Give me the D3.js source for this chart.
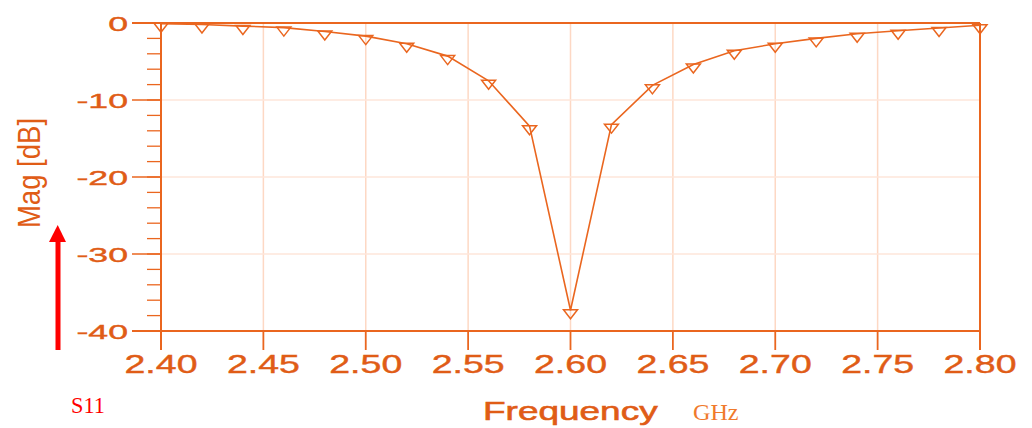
<!DOCTYPE html>
<html>
<head>
<meta charset="utf-8">
<script src="https://cdn.jsdelivr.net/npm/d3@7"></script>
<style>
  body { margin: 0; background: #fff; }
  svg { display: block; }
</style>
</head>
<body>
<script>
// S11 sweep, one point every 20 MHz
var freqs = [2.40, 2.42, 2.44, 2.46, 2.48, 2.50, 2.52, 2.54, 2.56, 2.58, 2.60,
             2.62, 2.64, 2.66, 2.68, 2.70, 2.72, 2.74, 2.76, 2.78, 2.80];
var s11 = [-0.1, -0.2, -0.4, -0.6, -1.1, -1.7, -2.7, -4.3, -7.5, -13.4, -37.3,
           -13.2, -8.1, -5.4, -3.6, -2.7, -2.0, -1.4, -1.0, -0.65, -0.3];
var xTicks = [2.40, 2.45, 2.50, 2.55, 2.60, 2.65, 2.70, 2.75, 2.80];
var yTicks = [0, -10, -20, -30, -40];
var yMinor = d3.range(0, -41, -2);

var W = 1032, H = 428;
var orange = '#ea661f', textCol = '#e05c16', grid = '#fdd8c4';

var svg = d3.select('body').append('svg').attr('width', W).attr('height', H);

var x = d3.scaleLinear().domain([2.4, 2.8]).range([161, 980]);
var y = d3.scaleLinear().domain([0, -40]).range([23, 331]);

// grid
svg.selectAll('.vg').data(xTicks.slice(1, -1)).enter().append('line')
    .attr('x1', d => x(d)).attr('x2', d => x(d))
    .attr('y1', y(0)).attr('y2', y(-40))
    .attr('stroke', grid).attr('stroke-width', 1.5);
svg.selectAll('.hg').data(yTicks.slice(1, -1)).enter().append('line')
    .attr('x1', x(2.4)).attr('x2', x(2.8))
    .attr('y1', d => y(d)).attr('y2', d => y(d))
    .attr('stroke', '#fee6da').attr('stroke-width', 1.5);

// y ticks
svg.selectAll('.ym').data(yMinor).enter().append('line')
    .attr('x1', 147).attr('x2', x(2.4))
    .attr('y1', d => y(d)).attr('y2', d => y(d))
    .attr('stroke', orange).attr('stroke-width', 1.3);
svg.selectAll('.yM').data(yTicks).enter().append('line')
    .attr('x1', 132).attr('x2', x(2.4))
    .attr('y1', d => y(d)).attr('y2', d => y(d))
    .attr('stroke', orange).attr('stroke-width', 1.5);

// frame: top, bottom, left, right
svg.append('line').attr('x1', 132).attr('x2', x(2.8)).attr('y1', y(0)).attr('y2', y(0))
    .attr('stroke', orange).attr('stroke-width', 1.8);
svg.append('line').attr('x1', 132).attr('x2', x(2.8)).attr('y1', y(-40)).attr('y2', y(-40))
    .attr('stroke', orange).attr('stroke-width', 1.8);
svg.append('line').attr('x1', x(2.4)).attr('x2', x(2.4)).attr('y1', y(0)).attr('y2', 350)
    .attr('stroke', orange).attr('stroke-width', 2);
svg.append('line').attr('x1', x(2.8)).attr('x2', x(2.8)).attr('y1', y(0)).attr('y2', 350)
    .attr('stroke', orange).attr('stroke-width', 2);

// x ticks
svg.selectAll('.xt').data(xTicks).enter().append('line')
    .attr('x1', d => x(d)).attr('x2', d => x(d))
    .attr('y1', y(-40)).attr('y2', 350)
    .attr('stroke', orange).attr('stroke-width', 1.8);

// tick labels (stretched wide, like the original)
var font = '"Liberation Sans", Arial, sans-serif';
svg.selectAll('.xl').data(xTicks).enter().append('text')
    .attr('transform', d => 'translate(' + x(d) + ',373) scale(1.5,1)')
    .attr('text-anchor', 'middle')
    .style('font-family', font).style('font-size', '25px')
    .attr('fill', textCol).attr('stroke', textCol).attr('stroke-width', 0.4)
    .text(d => d.toFixed(2));
svg.selectAll('.yl').data(yTicks).enter().append('text')
    .attr('transform', d => 'translate(128,' + (y(d) + 7.5) + ') scale(1.7,1)')
    .attr('text-anchor', 'end')
    .style('font-family', font).style('font-size', '21px')
    .attr('fill', textCol).attr('stroke', textCol).attr('stroke-width', 0.4)
    .text(d => d === 0 ? '0' : '-' + Math.abs(d));

// axis titles
svg.append('text')
    .attr('transform', 'translate(40,173) rotate(-90) scale(0.86,1)')
    .attr('text-anchor', 'middle')
    .style('font-family', font).style('font-size', '32px').attr('fill', textCol)
    .text('Mag [dB]');
svg.append('text')
    .attr('transform', 'translate(483,419.5) scale(1.45,1)')
    .style('font-family', font).style('font-size', '25.5px')
    .attr('fill', textCol).attr('stroke', textCol).attr('stroke-width', 0.6)
    .text('Frequency');
svg.append('text')
    .attr('transform', 'translate(693,420) scale(1.05,1)')
    .style('font-family', '"Liberation Serif", "Times New Roman", serif').style('font-size', '23px')
    .attr('fill', '#f07a2c')
    .text('GHz');
svg.append('text')
    .attr('transform', 'translate(71,413) scale(0.93,1)')
    .style('font-family', '"Liberation Serif", "Times New Roman", serif').style('font-size', '24px')
    .attr('fill', '#ff0000')
    .text('S11');

// red arrow
svg.append('rect').attr('x', 55.5).attr('y', 240).attr('width', 5).attr('height', 110).attr('fill', '#ff0000');
svg.append('path').attr('d', 'M49,242L66,242L57.7,225Z').attr('fill', '#ff0000');

// curve
var pts = freqs.map((f, i) => [f, s11[i]]);
svg.append('path').datum(pts)
    .attr('d', d3.line().x(d => x(d[0])).y(d => y(d[1])))
    .attr('fill', 'none').attr('stroke', orange).attr('stroke-width', 1.6);

svg.selectAll('.mk').data(pts).enter().append('path')
    .attr('transform', d => 'translate(' + x(d[0]) + ',' + y(d[1]) + ')')
    .attr('d', 'M-7,-0.5L7,-0.5L0,8.5Z')
    .attr('fill', 'none').attr('stroke', orange).attr('stroke-width', 1.5);
</script>
</body>
</html>
